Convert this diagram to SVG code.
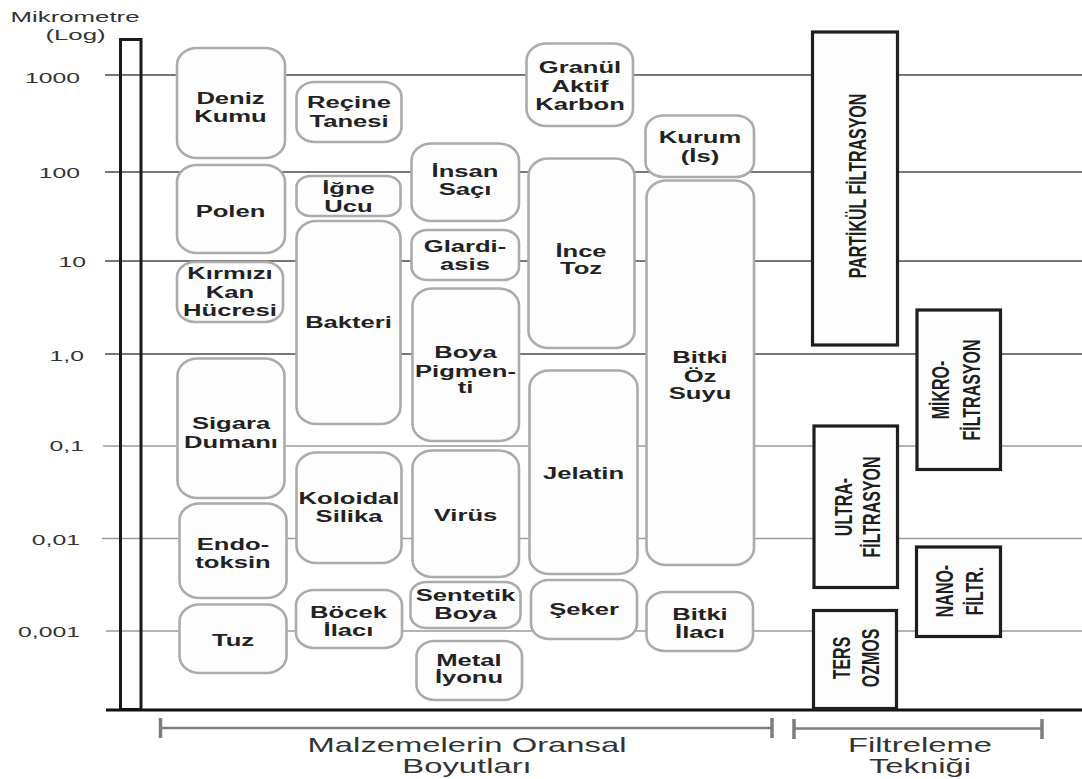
<svg xmlns="http://www.w3.org/2000/svg" width="1082" height="779" viewBox="0 0 1082 779">
<style>
.bg{fill:#ffffff}
.grid{stroke:#4a4a4a;stroke-width:1.3}
.gridl{stroke:#9a9a9a;stroke-width:1.6}
.axis{fill:none;stroke:#1a1a1a;stroke-width:3}
.node{fill:#fdfdfd;stroke:#ababab;stroke-width:2.6}
.filt{fill:#fdfdfd;stroke:#1e1e1e;stroke-width:3.2}
.nt{font-family:"Liberation Sans",Arial,sans-serif;font-weight:bold;font-size:16px;fill:#222;text-anchor:middle}
.ft{font-family:"Liberation Sans",Arial,sans-serif;font-weight:bold;font-size:16px;fill:#1e1e1e;text-anchor:middle}
.tick{font-family:"Liberation Sans",Arial,sans-serif;font-size:15px;fill:#333;text-anchor:end}
.lbl{font-family:"Liberation Sans",Arial,sans-serif;font-size:15px;fill:#333;text-anchor:middle}
.blbl{font-family:"Liberation Sans",Arial,sans-serif;font-size:20px;fill:#333;text-anchor:middle}
.brk{stroke:#7d7d7d;stroke-width:2.5;fill:none}
.brt{stroke:#7d7d7d;stroke-width:3.5;fill:none}
</style>
<rect class="bg" x="0" y="0" width="1082" height="779"/>

<g id="connectors">
  <line class="grid" x1="105" y1="75" x2="1082" y2="75"/>
  <line class="grid" x1="105" y1="172" x2="1082" y2="172"/>
  <line class="grid" x1="105" y1="261" x2="1082" y2="261"/>
  <line class="grid" x1="105" y1="354" x2="1082" y2="354"/>
  <line class="gridl" x1="103" y1="446" x2="1082" y2="446"/>
  <line class="gridl" x1="102" y1="538.5" x2="1082" y2="538.5"/>
  <line class="gridl" x1="106" y1="631" x2="1082" y2="631"/>
  <rect class="axis" x="120.5" y="39.5" width="20.5" height="670"/>
  <line x1="106" y1="710" x2="1082" y2="710" stroke="#111" stroke-width="3"/>
  <line class="brk" x1="160" y1="728" x2="772" y2="728"/>
  <line class="brt" x1="160.5" y1="718" x2="160.5" y2="738"/>
  <line class="brt" x1="772" y1="718" x2="772" y2="738"/>
  <line class="brk" x1="794" y1="728.5" x2="1042" y2="728.5"/>
  <line class="brt" x1="794" y1="719" x2="794" y2="739"/>
  <line class="brt" x1="1042" y1="719" x2="1042" y2="739"/>
</g>

<g id="axis-labels">
  <text class="lbl" transform="translate(75 22) scale(1.72 1)">Mikrometre</text>
  <text class="lbl" transform="translate(75.5 40) scale(1.72 1)">(Log)</text>
  <text class="tick" transform="translate(80 82.5) scale(1.65 1)">1000</text>
  <text class="tick" transform="translate(80 178) scale(1.65 1)">100</text>
  <text class="tick" transform="translate(86 267) scale(1.65 1)">10</text>
  <text class="tick" transform="translate(84 361) scale(1.65 1)">1,0</text>
  <text class="tick" transform="translate(84 451) scale(1.65 1)">0,1</text>
  <text class="tick" transform="translate(80 545) scale(1.65 1)">0,01</text>
  <text class="tick" transform="translate(80 637) scale(1.65 1)">0,001</text>
  <text class="blbl" transform="translate(467 752) scale(1.64 1)">Malzemelerin Oransal</text>
  <text class="blbl" transform="translate(467 773) scale(1.64 1)">Boyutları</text>
  <text class="blbl" transform="translate(920 752) scale(1.64 1)">Filtreleme</text>
  <text class="blbl" transform="translate(920 773) scale(1.64 1)">Tekniği</text>
</g>

<g id="n-deniz-kumu"><rect class="node" x="177" y="48" width="108" height="110" rx="20" ry="17"/>
  <text class="nt" transform="translate(230.5 0) scale(1.6 1)"><tspan x="0" y="104">Deniz</tspan><tspan x="0" y="122">Kumu</tspan></text></g>
<g id="n-polen"><rect class="node" x="177" y="165" width="108" height="88" rx="20" ry="17"/>
  <text class="nt" transform="translate(230.5 0) scale(1.6 1)"><tspan x="0" y="217">Polen</tspan></text></g>
<g id="n-kirmizi-kan"><rect class="node" x="177" y="262" width="106" height="60" rx="18" ry="15"/>
  <text class="nt" transform="translate(230 0) scale(1.6 1)"><tspan x="0" y="279">Kırmızı</tspan><tspan x="0" y="298">Kan</tspan><tspan x="0" y="316">Hücresi</tspan></text></g>
<g id="n-sigara"><rect class="node" x="177.5" y="358.5" width="107" height="139.5" rx="20" ry="17"/>
  <text class="nt" transform="translate(231 0) scale(1.6 1)"><tspan x="0" y="429">Sigara</tspan><tspan x="0" y="448">Dumanı</tspan></text></g>
<g id="n-endotoksin"><rect class="node" x="179.5" y="503.5" width="107" height="94.5" rx="20" ry="17"/>
  <text class="nt" transform="translate(233 0) scale(1.6 1)"><tspan x="0" y="550">Endo-</tspan><tspan x="0" y="568">toksin</tspan></text></g>
<g id="n-tuz"><rect class="node" x="179.5" y="604.5" width="107" height="68.5" rx="20" ry="17"/>
  <text class="nt" transform="translate(233 0) scale(1.6 1)"><tspan x="0" y="646">Tuz</tspan></text></g>

<g id="n-recine"><rect class="node" x="296.5" y="82" width="105" height="60" rx="18" ry="15"/>
  <text class="nt" transform="translate(349 0) scale(1.6 1)"><tspan x="0" y="108">Reçine</tspan><tspan x="0" y="127">Tanesi</tspan></text></g>
<g id="n-igne-ucu"><rect class="node" x="296.5" y="176" width="104" height="40" rx="14" ry="11"/>
  <text class="nt" transform="translate(348.5 0) scale(1.6 1)"><tspan x="0" y="194">İğne</tspan><tspan x="0" y="212">Ucu</tspan></text></g>
<g id="n-bakteri"><rect class="node" x="296.5" y="221" width="104" height="203" rx="20" ry="17"/>
  <text class="nt" transform="translate(348.5 0) scale(1.6 1)"><tspan x="0" y="328">Bakteri</tspan></text></g>
<g id="n-koloidal"><rect class="node" x="296.5" y="452.5" width="105" height="110.5" rx="20" ry="17"/>
  <text class="nt" transform="translate(349 0) scale(1.6 1)"><tspan x="0" y="504">Koloidal</tspan><tspan x="0" y="522">Silika</tspan></text></g>
<g id="n-bocek"><rect class="node" x="296" y="590" width="106" height="58" rx="18" ry="15"/>
  <text class="nt" transform="translate(348.5 0) scale(1.6 1)"><tspan x="0" y="618">Böcek</tspan><tspan x="0" y="636">İlacı</tspan></text></g>

<g id="n-insan-saci"><rect class="node" x="411.5" y="143.5" width="107.5" height="77.5" rx="20" ry="17"/>
  <text class="nt" transform="translate(465 0) scale(1.6 1)"><tspan x="0" y="177">İnsan</tspan><tspan x="0" y="195">Saçı</tspan></text></g>
<g id="n-glardiasis"><rect class="node" x="411.5" y="230" width="107.5" height="50" rx="16" ry="13"/>
  <text class="nt" transform="translate(465 0) scale(1.6 1)"><tspan x="0" y="252">Glardi-</tspan><tspan x="0" y="270">asis</tspan></text></g>
<g id="n-boya-pigmenti"><rect class="node" x="412.5" y="288.5" width="106.5" height="152.5" rx="20" ry="17"/>
  <text class="nt" transform="translate(465.5 0) scale(1.6 1)"><tspan x="0" y="358">Boya</tspan><tspan x="0" y="377">Pigmen-</tspan><tspan x="0" y="393">ti</tspan></text></g>
<g id="n-virus"><rect class="node" x="412.5" y="450.5" width="106.5" height="126.5" rx="20" ry="17"/>
  <text class="nt" transform="translate(465.5 0) scale(1.6 1)"><tspan x="0" y="521">Virüs</tspan></text></g>
<g id="n-sentetik"><rect class="node" x="410.5" y="582" width="110" height="46" rx="16" ry="13"/>
  <text class="nt" transform="translate(465.5 0) scale(1.6 1)"><tspan x="0" y="601">Sentetik</tspan><tspan x="0" y="619">Boya</tspan></text></g>
<g id="n-metal"><rect class="node" x="416.5" y="641" width="105.5" height="59" rx="18" ry="15"/>
  <text class="nt" transform="translate(469 0) scale(1.6 1)"><tspan x="0" y="666">Metal</tspan><tspan x="0" y="683">İyonu</tspan></text></g>

<g id="n-granul"><rect class="node" x="526.5" y="43.5" width="106.5" height="82.5" rx="20" ry="17"/>
  <text class="nt" transform="translate(580 0) scale(1.6 1)"><tspan x="0" y="73">Granül</tspan><tspan x="0" y="92">Aktif</tspan><tspan x="0" y="110">Karbon</tspan></text></g>
<g id="n-ince-toz"><rect class="node" x="528.5" y="158.5" width="106" height="189.5" rx="20" ry="17"/>
  <text class="nt" transform="translate(581 0) scale(1.6 1)"><tspan x="0" y="257">İnce</tspan><tspan x="0" y="274">Toz</tspan></text></g>
<g id="n-jelatin"><rect class="node" x="529.5" y="370.5" width="108" height="203.5" rx="20" ry="17"/>
  <text class="nt" transform="translate(583.5 0) scale(1.6 1)"><tspan x="0" y="479">Jelatin</tspan></text></g>
<g id="n-seker"><rect class="node" x="531" y="580" width="106" height="59" rx="18" ry="15"/>
  <text class="nt" transform="translate(584 0) scale(1.6 1)"><tspan x="0" y="615">Şeker</tspan></text></g>

<g id="n-kurum"><rect class="node" x="645.5" y="115.5" width="108.5" height="61.5" rx="18" ry="15"/>
  <text class="nt" transform="translate(700 0) scale(1.6 1)"><tspan x="0" y="143">Kurum</tspan><tspan x="0" y="162">(İs)</tspan></text></g>
<g id="n-bitki-oz-suyu"><rect class="node" x="646.5" y="180.5" width="107.5" height="384.5" rx="20" ry="17"/>
  <text class="nt" transform="translate(700 0) scale(1.6 1)"><tspan x="0" y="363">Bitki</tspan><tspan x="0" y="382">Öz</tspan><tspan x="0" y="399">Suyu</tspan></text></g>
<g id="n-bitki-ilaci"><rect class="node" x="646.5" y="592" width="106.5" height="59" rx="18" ry="15"/>
  <text class="nt" transform="translate(700 0) scale(1.6 1)"><tspan x="0" y="620">Bitki</tspan><tspan x="0" y="638">İlacı</tspan></text></g>

<g id="f-partikul"><rect class="filt" x="812.5" y="32" width="85" height="313"/>
  <text class="ft" transform="translate(866 186) rotate(-90) scale(1 1.45)">PARTİKÜL FİLTRASYON</text></g>
<g id="f-mikro"><rect class="filt" x="917" y="310" width="83.5" height="159.5"/>
  <text class="ft" transform="translate(949 390) rotate(-90) scale(1 1.45)">MİKRO-</text>
  <text class="ft" transform="translate(980 390) rotate(-90) scale(1 1.45)">FİLTRASYON</text></g>
<g id="f-ultra"><rect class="filt" x="814" y="426" width="83.5" height="161.5"/>
  <text class="ft" transform="translate(852 507) rotate(-90) scale(1 1.45)">ULTRA-</text>
  <text class="ft" transform="translate(880 507) rotate(-90) scale(1 1.45)">FİLTRASYON</text></g>
<g id="f-nano"><rect class="filt" x="916.5" y="547" width="84" height="89.5"/>
  <text class="ft" transform="translate(953 591) rotate(-90) scale(1 1.45)">NANO-</text>
  <text class="ft" transform="translate(983 591) rotate(-90) scale(1 1.45)">FİLTR.</text></g>
<g id="f-ters"><rect class="filt" x="813.5" y="610.5" width="83" height="98"/>
  <text class="ft" transform="translate(850 658) rotate(-90) scale(1 1.45)">TERS</text>
  <text class="ft" transform="translate(879 658) rotate(-90) scale(1 1.45)">OZMOS</text></g>
</svg>
